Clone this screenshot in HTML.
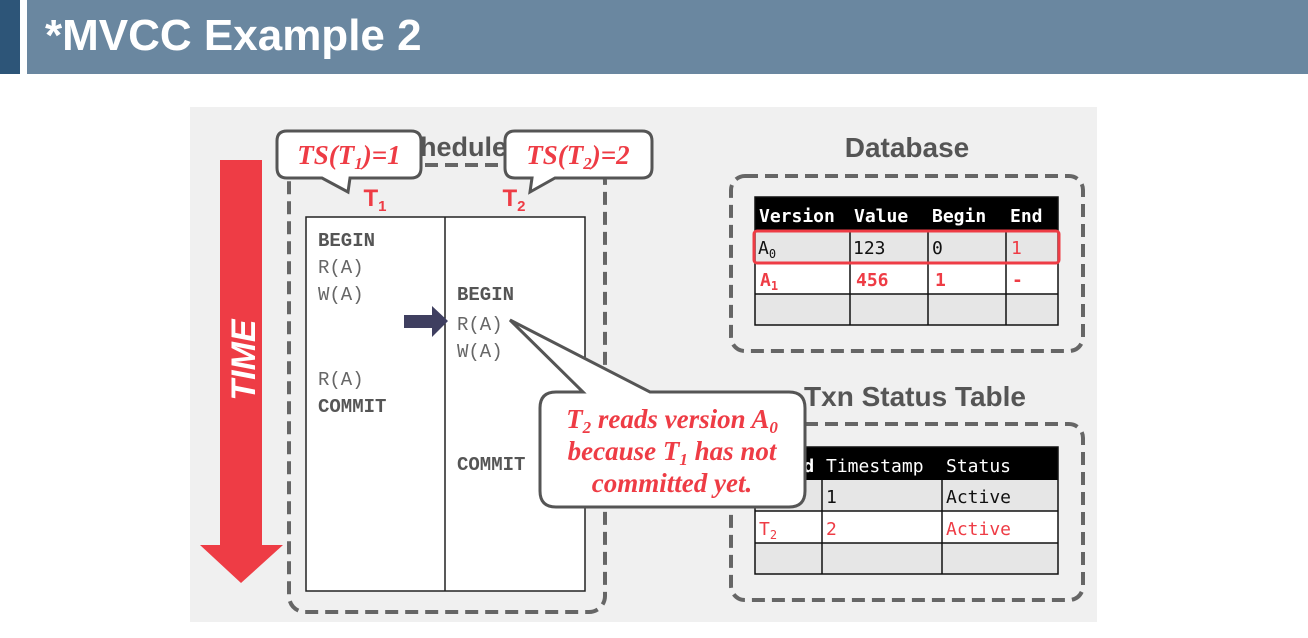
<!DOCTYPE html>
<html><head><style>
body{margin:0;width:1308px;height:638px;background:#fff;overflow:hidden;position:relative;font-family:"Liberation Sans",sans-serif}
</style></head><body>
<div style="position:absolute;left:0;top:0;width:20px;height:74px;background:#2d5578"></div>
<div style="position:absolute;left:27px;top:0;width:1281px;height:74px;background:#6a87a0"></div>
<div style="position:absolute;left:45px;top:11px;color:#fff;font-weight:bold;font-size:44px">*MVCC Example 2</div>
<svg style="position:absolute;left:0;top:0" width="1308" height="638" viewBox="0 0 1308 638">
<rect x="190" y="107" width="907" height="515" fill="#f0f0f0"/>
<rect x="220" y="160" width="42" height="386" fill="#ee3c45"/>
<polygon points="200,545 283,545 241,583" fill="#ee3c45"/>
<text x="255" y="360" transform="rotate(-90 255 360)" text-anchor="middle" fill="#fff" font-weight="bold" font-style="italic" font-size="34">TIME</text>
<text x="447" y="156" text-anchor="middle" fill="#555" font-weight="bold" font-size="27">Schedule</text>
<rect x="289" y="165" width="316" height="447" rx="16" fill="none" stroke="#666" stroke-width="4" stroke-dasharray="13,7"/>
<rect x="306" y="217" width="279" height="374" fill="#fff" stroke="#222" stroke-width="1.5"/>
<line x1="445" y1="217" x2="445" y2="591" stroke="#222" stroke-width="1.5"/>
<g font-family="Liberation Mono,monospace" font-size="19" fill="#666">
<text x="318" y="246" font-weight="bold" fill="#555">BEGIN</text>
<text x="318" y="273">R(A)</text>
<text x="318" y="300">W(A)</text>
<text x="318" y="385">R(A)</text>
<text x="318" y="412" font-weight="bold" fill="#555">COMMIT</text>
<text x="457" y="300" font-weight="bold" fill="#555">BEGIN</text>
<text x="457" y="330">R(A)</text>
<text x="457" y="357">W(A)</text>
<text x="457" y="470" font-weight="bold" fill="#555">COMMIT</text>
</g>
<polygon points="404,315 432,315 432,306 448,321 432,337 432,328 404,328" fill="#3f3f60"/>
<text x="375" y="206" text-anchor="middle" fill="#ee3c45" font-size="24" font-weight="bold">T<tspan font-size="15" dy="5">1</tspan></text>
<text x="514" y="206" text-anchor="middle" fill="#ee3c45" font-size="24" font-weight="bold">T<tspan font-size="15" dy="5">2</tspan></text>
<path d="M287,131 H411 Q421,131 421,141 V168 Q421,178 411,178 H350 L348,192 L322,178 H287 Q277,178 277,168 V141 Q277,131 287,131 Z" fill="#fff" stroke="#555" stroke-width="3"/>
<text x="349" y="164" text-anchor="middle" fill="#ee3c45" font-family="Liberation Serif,serif" font-style="italic" font-weight="bold" font-size="27">TS(T<tspan font-size="17" dy="5">1</tspan><tspan dy="-5">)=1</tspan></text>
<path d="M515,131 H642 Q652,131 652,141 V168 Q652,178 642,178 H555 L530,192 L532,178 H515 Q505,178 505,168 V141 Q505,131 515,131 Z" fill="#fff" stroke="#555" stroke-width="3"/>
<text x="578" y="164" text-anchor="middle" fill="#ee3c45" font-family="Liberation Serif,serif" font-style="italic" font-weight="bold" font-size="27">TS(T<tspan font-size="17" dy="5">2</tspan><tspan dy="-5">)=2</tspan></text>
<text x="907" y="157" text-anchor="middle" fill="#555" font-weight="bold" font-size="28">Database</text>
<rect x="731" y="176" width="352" height="175" rx="14" fill="none" stroke="#666" stroke-width="4" stroke-dasharray="13,7"/>
<rect x="755" y="197" width="303" height="33" fill="#000"/>
<rect x="755" y="230" width="303" height="33" fill="#e6e6e6"/>
<rect x="755" y="263" width="303" height="31" fill="#fff"/>
<rect x="755" y="294" width="303" height="31" fill="#e6e6e6"/>
<g stroke="#111" stroke-width="1.5" fill="none">
<rect x="755" y="197" width="303" height="128"/>
<line x1="755" y1="263" x2="1058" y2="263"/><line x1="755" y1="294" x2="1058" y2="294"/>
<line x1="850" y1="230" x2="850" y2="325"/><line x1="928" y1="230" x2="928" y2="325"/><line x1="1006" y1="230" x2="1006" y2="325"/>
</g>
<rect x="754" y="231" width="305" height="32" rx="3" fill="none" stroke="#ee3c45" stroke-width="3"/>
<g font-family="DejaVu Sans Mono,monospace" font-size="18">
<text x="759" y="222" fill="#fff" font-weight="bold">Version</text><text x="854" y="222" fill="#fff" font-weight="bold">Value</text><text x="932" y="222" fill="#fff" font-weight="bold">Begin</text><text x="1010" y="222" fill="#fff" font-weight="bold">End</text>
<text x="758" y="254" fill="#111">A<tspan font-size="12" dy="4">0</tspan></text><text x="853" y="254" fill="#111">123</text><text x="932" y="254" fill="#111">0</text><text x="1011" y="254" fill="#ee3c45">1</text>
<g fill="#ee3c45" font-weight="bold"><text x="760" y="286">A<tspan font-size="12" dy="4">1</tspan></text><text x="856" y="286">456</text><text x="935" y="286">1</text><text x="1012" y="286">-</text></g>
</g>
<text x="915" y="406" text-anchor="middle" fill="#555" font-weight="bold" font-size="28">Txn Status Table</text>
<rect x="731" y="424" width="352" height="176" rx="14" fill="none" stroke="#666" stroke-width="4" stroke-dasharray="13,7"/>
<rect x="755" y="447" width="303" height="33" fill="#000"/>
<rect x="755" y="480" width="303" height="31" fill="#e6e6e6"/>
<rect x="755" y="511" width="303" height="32" fill="#fff"/>
<rect x="755" y="543" width="303" height="31" fill="#e6e6e6"/>
<g stroke="#111" stroke-width="1.5" fill="none">
<rect x="755" y="447" width="303" height="127"/>
<line x1="755" y1="511" x2="1058" y2="511"/><line x1="755" y1="543" x2="1058" y2="543"/>
<line x1="822" y1="480" x2="822" y2="574"/><line x1="942" y1="480" x2="942" y2="574"/>
</g>
<g font-family="DejaVu Sans Mono,monospace" font-size="18">
<text x="760" y="472" fill="#fff" font-weight="bold">TxnId</text><text x="826" y="472" fill="#fff">Timestamp</text><text x="946" y="472" fill="#fff">Status</text>
<text x="760" y="503" fill="#111">T<tspan font-size="12" dy="4">1</tspan></text><text x="826" y="503" fill="#111">1</text><text x="946" y="503" fill="#111">Active</text>
<g fill="#ee3c45"><text x="759" y="535">T<tspan font-size="12" dy="4">2</tspan></text><text x="826" y="535">2</text><text x="946" y="535">Active</text></g>
</g>
<path d="M556,392 H583 L510,320 L650,392 H789 Q805,392 805,408 V491 Q805,507 789,507 H556 Q540,507 540,491 V408 Q540,392 556,392 Z" fill="#fff" stroke="#555" stroke-width="3"/>
<g font-family="Liberation Serif,serif" font-style="italic" font-weight="bold" font-size="27" fill="#ee3c45" text-anchor="middle">
<text x="672" y="428">T<tspan font-size="17" dy="5">2</tspan><tspan dy="-5"> reads version A</tspan><tspan font-size="17" dy="5">0</tspan></text>
<text x="672" y="460">because T<tspan font-size="17" dy="5">1</tspan><tspan dy="-5"> has not</tspan></text>
<text x="672" y="492">committed yet.</text>
</g>
</svg>
</body></html>
